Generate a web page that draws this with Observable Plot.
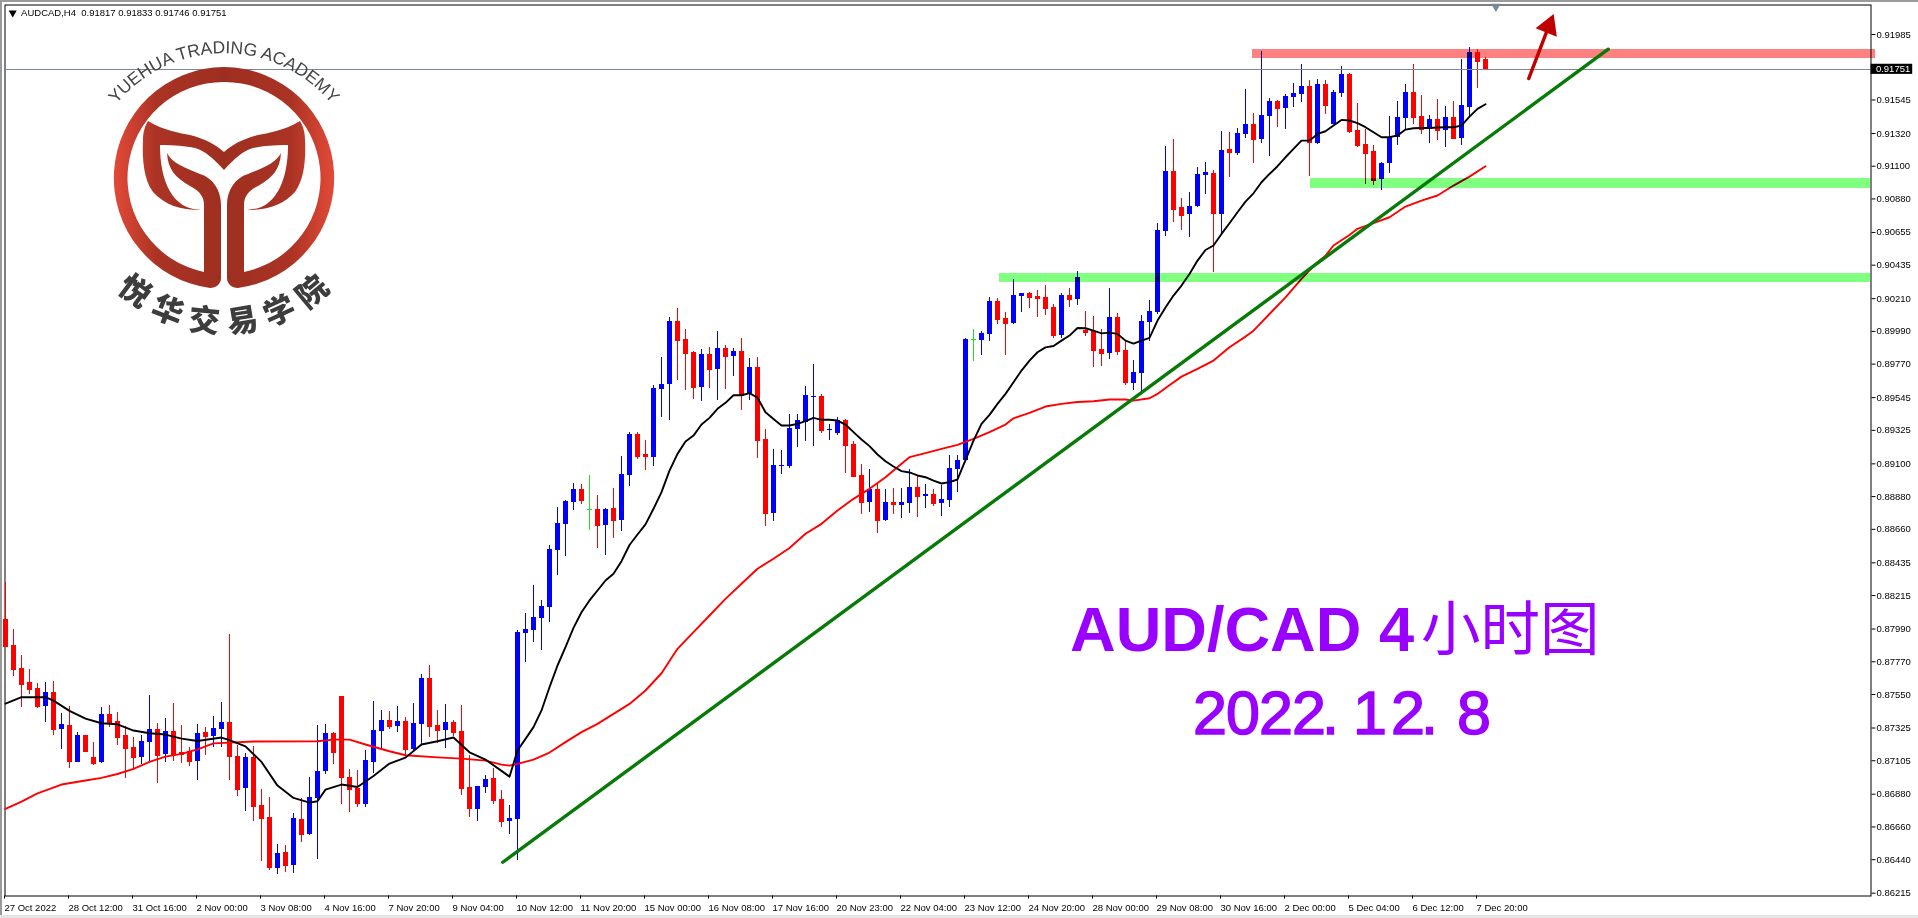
<!DOCTYPE html>
<html>
<head>
<meta charset="utf-8">
<style>
html,body{margin:0;padding:0;background:#fff;overflow:hidden}
#chart{position:relative;width:1918px;height:918px}
.strip{position:absolute;z-index:3}
</style>
<script src="https://cdn.jsdelivr.net/npm/d3@7"></script>
<script src="https://cdn.jsdelivr.net/npm/@observablehq/plot@0.6"></script>
</head>
<body>
<div id="chart">
<div class="strip" style="left:0;top:0;width:2px;height:918px;background:#9a9a9a"></div>
<div class="strip" style="left:0;top:0;width:1918px;height:2px;background:#9a9a9a"></div>
<div class="strip" style="left:0;top:915px;width:1918px;height:3px;background:#e6e6e6"></div>
</div>
<script>
// All prices are in points (1 point = 0.00001), bar index = position on the 4h time axis.
const opens = [
88051,87879,87724,87630,87590,87469,87563,87314,87341,87093,
87272,87126,87093,87415,87368,87274,87193,87126,87227,87314,
87146,87301,87160,87166,87099,87294,87267,87314,87361,87133,
86918,87126,86804,86723,86380,86488,86400,86710,86609,86851,
87032,87287,87534,86992,86918,86810,87093,87301,87375,87334,
87368,87180,87348,87657,87341,87308,87361,87301,86925,86777,
86925,86985,86844,86696,86710,87960,87980,88061,88135,88518,
88693,88840,88928,88791,88793,88686,88800,88719,89022,89297,
89163,89143,89600,89633,90056,89936,89848,89613,89835,89734,
89875,89821,89855,89573,89747,89264,88766,89082,89082,89331,
89378,89546,89552,89324,89304,89391,89230,89022,88840,88928,
88719,88840,88820,88833,88941,88880,88894,88833,88854,89062,
89122,89936,89929,89969,90191,90076,90042,90224,90244,90224,
90217,90150,89962,90231,90204,89995,89989,89868,89841,90083,
89861,89639,89706,90049,90116,90661,91064,90822,90775,90829,
91037,91050,90775,91212,91185,91313,91380,91279,91433,91534,
91487,91561,91581,91635,91252,91649,91380,91588,91716,91339,
91245,91198,91010,91118,91292,91420,91595,91433,91346,91413,
91339,91427,91286,91494,91864,91817];
const highs = [
88302,87986,87812,87718,87621,87630,87637,87422,87469,87292,
87274,87227,87462,87476,87429,87334,87261,87274,87543,87355,
87388,87489,87341,87193,87348,87328,87402,87496,87953,87207,
87153,87200,86911,86857,86542,86535,86750,86851,86992,87341,
87348,87294,87536,87046,87039,87173,87502,87442,87435,87469,
87395,87489,87684,87744,87442,87482,87375,87476,87140,86931,
87005,87052,86904,86804,87980,88092,88283,88182,88551,88807,
88854,88968,88961,89022,88887,88800,88934,89149,89308,89311,
89257,89626,89815,90083,90144,90003,89855,89868,89882,89989,
89895,89875,89942,89808,89815,89331,89196,89190,89432,89432,
89620,89768,89566,89364,89411,89398,89250,89096,89062,88961,
88928,88934,88934,89062,89015,88961,88928,88954,89156,89156,
89942,90003,89989,90218,90211,90116,90338,90244,90251,90264,
90298,90170,90244,90278,90392,90123,90089,90002,90278,90110,
89928,89794,90096,90197,90714,91232,91279,90882,90923,91091,
91124,91071,91333,91326,91353,91615,91454,91870,91554,91541,
91581,91655,91783,91675,91682,91675,91608,91769,91722,91521,
91346,91239,91124,91433,91534,91649,91783,91575,91440,91548,
91501,91534,91817,91897,91884,91833];
const lows = [
87863,87670,87464,87550,87458,87361,87276,87180,87052,87093,
87160,87072,87088,87328,87207,86985,87039,87079,87099,86951,
87093,87099,87086,87066,86972,87140,87193,87193,86972,86864,
86763,86696,86427,86367,86340,86353,86347,86555,86602,86441,
87012,87079,86810,86757,86790,86790,87019,87187,87314,87294,
87140,87173,87214,87261,87220,87187,87267,86871,86723,86696,
86884,86810,86656,86609,86434,87765,87900,87846,88034,88350,
88477,88787,88827,88652,88531,88484,88598,88645,88948,89129,
89055,89082,89411,89391,89660,89593,89532,89519,89606,89526,
89600,89687,89458,89526,89136,88679,88712,89028,89069,89210,
89250,89216,89304,89257,89290,89035,89008,88760,88773,88632,
88712,88760,88733,88766,88739,88800,88813,88746,88807,88907,
89122,89788,89828,89922,90036,89827,90036,90116,90143,90083,
90096,89942,89942,90150,90163,89955,89747,89753,89801,89827,
89626,89592,89585,89921,90103,90627,90721,90667,90620,90822,
90909,90385,90647,91024,91171,91286,91118,91252,91165,91360,
91346,91494,91528,91030,91245,91447,91380,91561,91319,91225,
90977,90970,90936,91050,91239,91339,91380,91313,91252,91272,
91225,91279,91239,91433,91622,91746];
const closes = [
87872,87720,87619,87583,87469,87563,87314,87348,87099,87274,
87166,87086,87415,87355,87261,87187,87126,87234,87314,87140,
87301,87146,87146,87099,87287,87267,87321,87361,87133,86911,
87126,86797,86716,86387,86481,86400,86716,86609,86857,87032,
87287,87160,86992,86911,86817,87106,87308,87375,87334,87368,
87180,87355,87657,87334,87308,87361,87294,86918,86783,86931,
86978,86837,86696,86716,87967,87987,88068,88141,88525,88699,
88847,88928,88854,88791,88686,88793,88719,89029,89297,89149,
89149,89606,89633,90056,89929,89841,89613,89835,89734,89875,
89821,89855,89559,89747,89257,88766,89089,89089,89337,89391,
89559,89552,89324,89331,89391,89223,89015,88840,88928,88719,
88840,88827,88840,88941,88880,88894,88833,88860,89069,89122,
89936,89936,89976,90191,90070,90042,90231,90244,90217,90210,
90143,89962,90231,90204,90352,89982,89861,89841,90083,89854,
89646,89713,90056,90123,90667,91064,90809,90768,90829,91044,
91057,90782,91205,91192,91319,91380,91279,91440,91534,91487,
91568,91588,91635,91259,91649,91507,91595,91716,91333,91239,
91185,91003,91118,91292,91427,91595,91427,91346,91413,91339,
91427,91286,91507,91864,91803,91751];

// Black moving average
const fastBars = [0,2,5,6,8,10,12,14,16,18,20,22,24,27,28,30,32,34,36,38,39,40,42,44,46,48,50,52,54,56,58,60,62,63,
64,65,66,67,68,69,70,71,72,73,74,75,76,77,78,79,80,81,82,83,84,85,86,87,88,89,90,91,92,93,94,95,96,97,98,99,100,101,102,103,104,105,106,107,108,109,110,111,112,113,114,115,116,117,118,119,120,121,122,123,124,125,126,127,128,129,130,131,132,133,134,135,136,137,138,139,140,141,142,143,144,145,146,147,148,149,150,151,152,153,154,155,156,157,158,159,160,161,162,163,164,165,166,167,168,169,170,171,172,173,174,175,176,177,178,179,180,181,182,183,184,185];
const fastValues = [87489,87532,87532,87509,87440,87388,87357,87350,87308,87290,87281,87254,87238,87261,87243,87202,87097,86938,86855,86824,86833,86911,86945,86929,87003,87086,87126,87214,87236,87261,87162,87113,87037,86998,
87174,87252,87331,87443,87599,87745,87868,87998,88103,88182,88249,88316,88361,88446,88555,88625,88693,88798,88910,89055,89167,89250,89290,89364,89409,89470,89510,89561,89561,89575,89544,89447,89402,89358,89358,89369,89387,89409,89396,89396,89391,89364,89313,89264,89219,89163,89118,89082,89051,89042,89022,89010,88988,88968,88977,88995,89125,89256,89369,89429,89503,89570,89648,89727,89794,89850,89883,89892,89928,89962,90013,90011,89995,89977,89982,89973,89928,89908,89928,89946,90063,90150,90231,90298,90376,90466,90537,90567,90645,90717,90791,90862,90918,90992,91048,91100,91160,91216,91272,91272,91317,91335,91373,91411,91407,91389,91362,91328,91295,91295,91306,91346,91355,91357,91357,91360,91362,91362,91373,91433,91485,91516];

// Red moving average
const slowBars = [0,2,4,7,10,12,14,16,18,20,22,24,26,28,31,39,41,43,45,48,50,54,57,60,62,63,64,66,68,70,72,74,76,78,80,82,84,86,88,90,92,94,96,98,100,102,104,106,108,110,112,113,115,117,119,121,123,125,126,128,130,132,134,136,138,140,141,143,144,145,147,149,151,153,155,156,158,160,162,164,165,166,168,169,171,173,175,177,179,181,183,185];
const slowValues = [86781,86830,86886,86945,86972,86990,87016,87050,87097,87133,87151,87182,87222,87227,87234,87236,87247,87247,87214,87169,87142,87128,87119,87106,87079,87072,87084,87113,87160,87230,87297,87353,87420,87487,87577,87693,87857,87969,88081,88193,88294,88395,88462,88535,88630,88697,88786,88865,88932,89010,89100,89145,89172,89201,89228,89268,89313,89364,89406,89442,89485,89503,89516,89521,89532,89532,89525,89541,89570,89610,89686,89738,89794,89883,89955,89995,90107,90219,90343,90455,90499,90567,90638,90679,90717,90757,90829,90869,90903,90970,91030,91100];

const yTicks = [91985,91545,91320,91100,90880,90655,90435,90210,89990,89770,89545,89325,89100,88880,88660,88435,88215,87990,87770,87550,87325,87105,86880,86660,86440,86215];
const bidPrice = 91751;
const xTickBars = [0,8,16,24,32,40,48,56,64,72,80,88,96,104,112,120,128,136,144,152,160,168,176,184];
const xTickLabels = ["27 Oct 2022","28 Oct 12:00","31 Oct 16:00","2 Nov 00:00","3 Nov 08:00","4 Nov 16:00","7 Nov 20:00","9 Nov 04:00","10 Nov 12:00","11 Nov 20:00","15 Nov 00:00","16 Nov 08:00","17 Nov 16:00","20 Nov 23:00","22 Nov 04:00","23 Nov 12:00","24 Nov 20:00","28 Nov 00:00","29 Nov 08:00","30 Nov 16:00","2 Dec 00:00","5 Dec 04:00","6 Dec 12:00","7 Dec 20:00"];

// Drawn objects
const zones = [
  {from:155.9, to:233.75, top:91884, bottom:91824, fill:"#ff8080"},
  {from:124.25, to:233.1, top:90379, bottom:90318, fill:"#80ff80"},
  {from:163.1, to:233.1, top:91017, bottom:90950, fill:"#80ff80"}
];
const trendBars = [62.16, 200.35];
const trendValues = [86423, 91886];
const arrowBars = [190.4, 192.9];
const arrowValues = [91689, 92040];

const bars = opens.map((o,i)=>({i,o,h:highs[i],l:lows[i],c:closes[i],
  color:closes[i]>o?"#0000ff":closes[i]<o?"#ff0000":"#1ee61e"}));
const fast = fastBars.map((i,k)=>({i,v:fastValues[k]}));
const slow = slowBars.map((i,k)=>({i,v:slowValues[k]}));
const trend = trendBars.map((i,k)=>({i,v:trendValues[k]}));
const arrow = arrowBars.map((i,k)=>({i,v:arrowValues[k]}));
const price = v => (v/1e5).toFixed(5);
const FONT = '"Liberation Sans",Arial,sans-serif';

const chart = Plot.plot({
  width:1918,height:918,
  marginLeft:4.5,marginTop:4.5,marginRight:47.5,marginBottom:22.5,
  style:{fontFamily:FONT,fontSize:"9.5px",background:"transparent",color:"#000",overflow:"visible"},
  x:{type:"linear",domain:[0,233],range:[5,1869]},
  y:{type:"linear",domain:[86215,91985],range:[892.7,34]},
  marks:[
    Plot.frame({stroke:"#000",strokeWidth:1}),
    Plot.ruleX(bars,{x:"i",y1:"l",y2:"h",stroke:"color",strokeWidth:1,shapeRendering:"crispEdges"}),
    Plot.rect(bars,{x1:d=>d.i-0.25,x2:d=>d.i+0.375,y1:"o",y2:"c",fill:"color",shapeRendering:"crispEdges"}),
    Plot.ruleY(bars,{y:"c",x1:d=>d.i-0.25,x2:d=>d.i+0.375,stroke:"color",strokeWidth:1,shapeRendering:"crispEdges"}),
    Plot.ruleY([bidPrice],{stroke:"#778899",strokeWidth:1,shapeRendering:"crispEdges"}),
    Plot.line(slow,{x:"i",y:"v",stroke:"#ff0000",strokeWidth:1.9}),
    Plot.line(fast,{x:"i",y:"v",stroke:"#000",strokeWidth:1.9}),
    Plot.rect(zones,{x1:"from",x2:"to",y1:"bottom",y2:"top",fill:"fill",mixBlendMode:"multiply",shapeRendering:"crispEdges"}),
    Plot.line(trend,{x:"i",y:"v",stroke:"#087a08",strokeWidth:3.4}),
    Plot.line(arrow,{x:"i",y:"v",stroke:"#c00000",strokeWidth:3.4}),
    Plot.dot([arrow[1]],{x:"i",y:"v",symbol:"triangle",r:8.5,fill:"#c00000",rotate:22}),
    Plot.dot([{i:186.3,v:92173}],{x:"i",y:"v",symbol:"triangle",r:3.6,fill:"#778899",rotate:180}),
    Plot.dot([{i:0.9,v:92131}],{x:"i",y:"v",symbol:"triangle",r:3,fill:"#000",rotate:180}),
    Plot.text([{i:1.95,v:92129,t:"AUDCAD,H4\u00a0\u00a00.91817 0.91833 0.91746 0.91751"}],{x:"i",y:"v",text:"t",textAnchor:"start",fill:"#000"}),
    Plot.axisY({anchor:"right",ticks:yTicks,tickFormat:price,tickSize:4,tickPadding:1.5,label:null,textAnchor:"start"}),
    Plot.axisX({anchor:"bottom",ticks:xTickBars,tickFormat:i=>xTickLabels[xTickBars.indexOf(i)],tickSize:3,tickPadding:5,label:null,textAnchor:"start",dx:-1}),
    Plot.rect([bidPrice],{x1:233.2,x2:238.4,y1:d=>d-34,y2:d=>d+34,fill:"#000"}),
    Plot.text([bidPrice],{x:233.8,y:d=>d,text:price,textAnchor:"start",fill:"#fff"})
  ]
});
document.getElementById("chart").appendChild(chart);

// Academy logo and the big caption, kept as real text
const svg = d3.select(chart);
const defs = svg.append("defs");
const grad = defs.append("linearGradient").attr("id","logoGrad").attr("gradientUnits","userSpaceOnUse")
  .attr("x1",113).attr("x2",224).attr("y1",0).attr("y2",0);
grad.append("stop").attr("offset",0).attr("stop-color","#e44a38");
grad.append("stop").attr("offset",0.4).attr("stop-color","#aa3324");
grad.append("stop").attr("offset",1).attr("stop-color","#9e2f20");
defs.append("path").attr("id","arcTop").attr("d","M 93 144.8 A 139.5 139.5 0 0 1 355 144.8");
defs.append("path").attr("id","arcBot").attr("d","M 92 258 A 154 154 0 0 0 356 258");

const half = svg.append("g").attr("fill","url(#logoGrad)");
const halfPaths = [
  "M224 67 A111 111 0 0 0 210 288 C216 288,221 284,221 278 L221 205 C221 190,213 178,200 174 C185 168,172 163,167 153 C168 170,176 178,190 186 C200 191,204 197,204 205 L204 272 A96 96 0 0 1 224 82 Z",
  "M148 121 C165 131,180 133,190 135 C205 139,215 144,224 152 L224 170 C213 158,205 151,195 148 C185 146,175 145,160 145 C160 170,166 192,180 203 C186 208,193 209,201 210 C180 210,165 205,153 192 C144 180,142 160,143 140 C143 132,145 126,148 121 Z"
];
[null,"translate(448,0) scale(-1,1)"].forEach(t=>{
  const g = half.append("g"); if(t) g.attr("transform",t);
  halfPaths.forEach(d=>g.append("path").attr("d",d));
});
svg.append("text").attr("fill","#444").attr("text-anchor","middle").style("font",`17.5px ${FONT}`)
  .append("textPath").attr("href","#arcTop").attr("startOffset","50%").text("YUEHUA TRADING ACADEMY");
svg.append("text").attr("fill","#3d3d3d").attr("text-anchor","middle")
  .style("font",'900 31px "Noto Sans CJK SC"').style("letter-spacing","10px")
  .append("textPath").attr("href","#arcBot").attr("startOffset","51.5%").text("悦华交易学院");

const purple = "#9900ff";
svg.append("text").attr("x",1070).attr("y",651).attr("text-anchor","start").attr("fill",purple)
  .style("font",`bold 63.2px ${FONT}`).text("AUD/CAD 4");
svg.append("text").attr("x",1421).attr("y",650).attr("text-anchor","start").attr("fill",purple)
  .style("font",'400 59.5px "Noto Sans CJK SC"').text("小时图");
const dateText = "2022.12.8";
svg.append("text").attr("y",734).attr("text-anchor","start").attr("fill",purple)
  .attr("x",Array.from(dateText,(c,k)=>1193+k*33+(c==="."?-3:0)+(c==="1"?-5:0)).join(" "))
  .style("font",`61px ${FONT}`).style("stroke",purple).style("stroke-width","1.5px").text(dateText);
</script>
</body>
</html>
